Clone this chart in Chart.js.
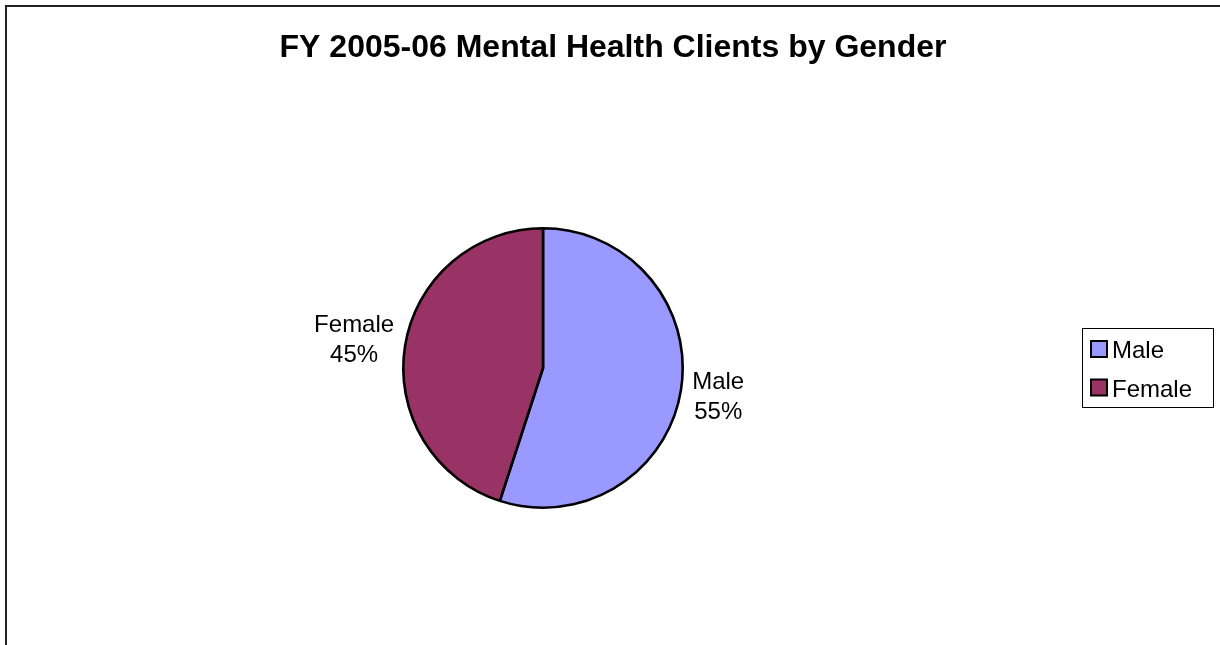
<!DOCTYPE html>
<html>
<head>
<meta charset="utf-8">
<script src="https://cdn.jsdelivr.net/npm/chart.js@4"></script>
<style>
html,body{margin:0;padding:0;background:#fff;}
canvas{display:block;}
</style>
</head>
<body>
<canvas id="c" width="1220" height="645"></canvas>
<script>
const chartTitle = 'FY 2005-06 Mental Health Clients by Gender';
const categories = ['Male', 'Female'];
const values = [55, 45];
const colors = ['#9999FF', '#993366'];

const FONT = '"Liberation Sans", Arial, sans-serif';

const decor = {
  id: 'decor',
  afterDraw(chart) {
    const ctx = chart.ctx;
    ctx.save();
    // outer frame (extends beyond canvas on right/bottom)
    ctx.strokeStyle = '#222';
    ctx.lineWidth = 2;
    ctx.strokeRect(6, 6, 1400, 1000);

    // title
    ctx.fillStyle = '#000';
    ctx.font = 'bold 32px ' + FONT;
    ctx.textAlign = 'center';
    ctx.textBaseline = 'alphabetic';
    ctx.fillText(chartTitle, 613, 57);

    // data labels
    const meta = chart.getDatasetMeta(0);
    const total = values.reduce((a, b) => a + b, 0);
    ctx.font = '24px ' + FONT;
    meta.data.forEach((arc, i) => {
      const mid = (arc.startAngle + arc.endAngle) / 2;
      const lines = [categories[i], Math.round(values[i] / total * 100) + '%'];
      const w = Math.max(...lines.map(t => ctx.measureText(t).width));
      const c = Math.cos(mid), s = Math.sin(mid);
      const dist = arc.outerRadius + 12 + (w / 2) * Math.abs(c);
      const cx = arc.x + dist * c;
      const cy = arc.y + dist * s;
      ctx.textAlign = 'center';
      ctx.fillText(lines[0], cx, cy - 15 + 8.5);
      ctx.fillText(lines[1], cx, cy + 15 + 8.5);
    });

    // legend
    ctx.lineWidth = 1;
    ctx.strokeStyle = '#000';
    ctx.strokeRect(1082.5, 328.5, 131, 79);
    ctx.textAlign = 'left';
    categories.forEach((name, i) => {
      const y = 341 + i * 38.5;
      ctx.fillStyle = colors[i];
      ctx.fillRect(1091, y, 16, 16);
      ctx.lineWidth = 2;
      ctx.strokeStyle = '#000';
      ctx.strokeRect(1091, y, 16, 16);
      ctx.fillStyle = '#000';
      ctx.fillText(name, 1112, y + 17);
    });
    ctx.restore();
  }
};

new Chart(document.getElementById('c'), {
  type: 'pie',
  data: {
    labels: categories,
    datasets: [{
      data: values,
      backgroundColor: colors,
      borderColor: '#000',
      borderWidth: 2.6
    }]
  },
  options: {
    responsive: false,
    animation: false,
    layout: { padding: { top: 227, bottom: 136, left: 402, right: 536 } },
    plugins: {
      legend: { display: false },
      title: { display: false },
      tooltip: { enabled: false }
    }
  },
  plugins: [decor]
});
</script>
</body>
</html>
